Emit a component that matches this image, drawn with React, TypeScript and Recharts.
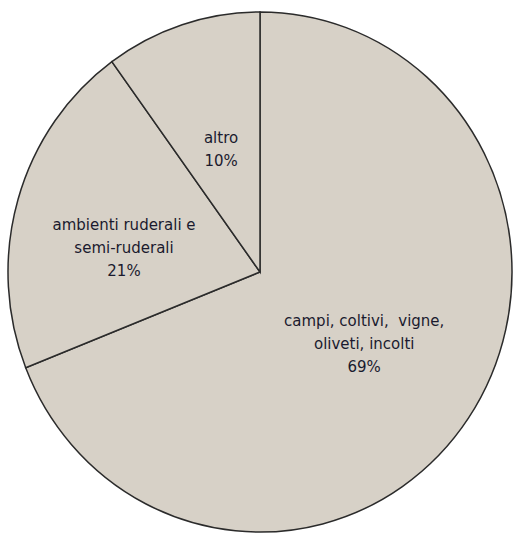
import React from 'react';
import { PieChart, Pie, Cell } from 'recharts';

const categories = ['campi, coltivi,  vigne,|oliveti, incolti', 'ambienti ruderali e|semi-ruderali', 'altro'];
const values = [69, 21, 10];
const pctLabels = ['69%', '21%', '10%'];

const data = categories.map((name, i) => ({ name, value: values[i], pct: pctLabels[i] }));

const RADIAN = Math.PI / 180;
// nudges so labels sit where the original placed them
const labelShift = [
  [0, -1],
  [-15, 12],
  [0, 1],
];

const renderLabel = (props: any) => {
  const { cx, cy, midAngle, outerRadius, index } = props;
  const r = outerRadius * 0.5;
  const x = cx + r * Math.cos(-midAngle * RADIAN) + labelShift[index][0];
  const y = cy + r * Math.sin(-midAngle * RADIAN) + labelShift[index][1];
  const lines = [...categories[index].split('|'), pctLabels[index]];
  const lineH = 22.5;
  const top = y - ((lines.length - 1) * lineH) / 2;
  return (
    <text
      x={x}
      y={top}
      textAnchor="middle"
      dominantBaseline="central"
      fill="#1a1a2e"
      fontSize={15}
      fontFamily="'DejaVu Sans', sans-serif"
    >
      {lines.map((l, i) => (
        <tspan key={i} x={x} y={top + i * lineH} style={{ whiteSpace: 'pre' }}>
          {l}
        </tspan>
      ))}
    </text>
  );
};

export default function App() {
  return (
    <div
      style={{
        position: 'absolute',
        left: 0,
        top: 0,
        width: 513,
        height: 533,
        background: '#fff',
        overflow: 'hidden',
      }}
    >
      <div style={{ transform: 'scaleY(1.032)', transformOrigin: '260px 272px' }}>
        <PieChart width={513} height={533} margin={{ top: 0, right: 0, bottom: 0, left: 0 }}>
          <Pie
            data={data}
            dataKey="value"
            nameKey="name"
            cx={260}
            cy={272}
            outerRadius={252}
            startAngle={90}
            endAngle={-270}
            stroke="#2b2b2b"
            strokeWidth={1.5}
            label={renderLabel}
            labelLine={false}
            isAnimationActive={false}
          >
            {data.map((d) => (
              <Cell key={d.name} fill="#d7d1c7" />
            ))}
          </Pie>
        </PieChart>
      </div>
    </div>
  );
}
